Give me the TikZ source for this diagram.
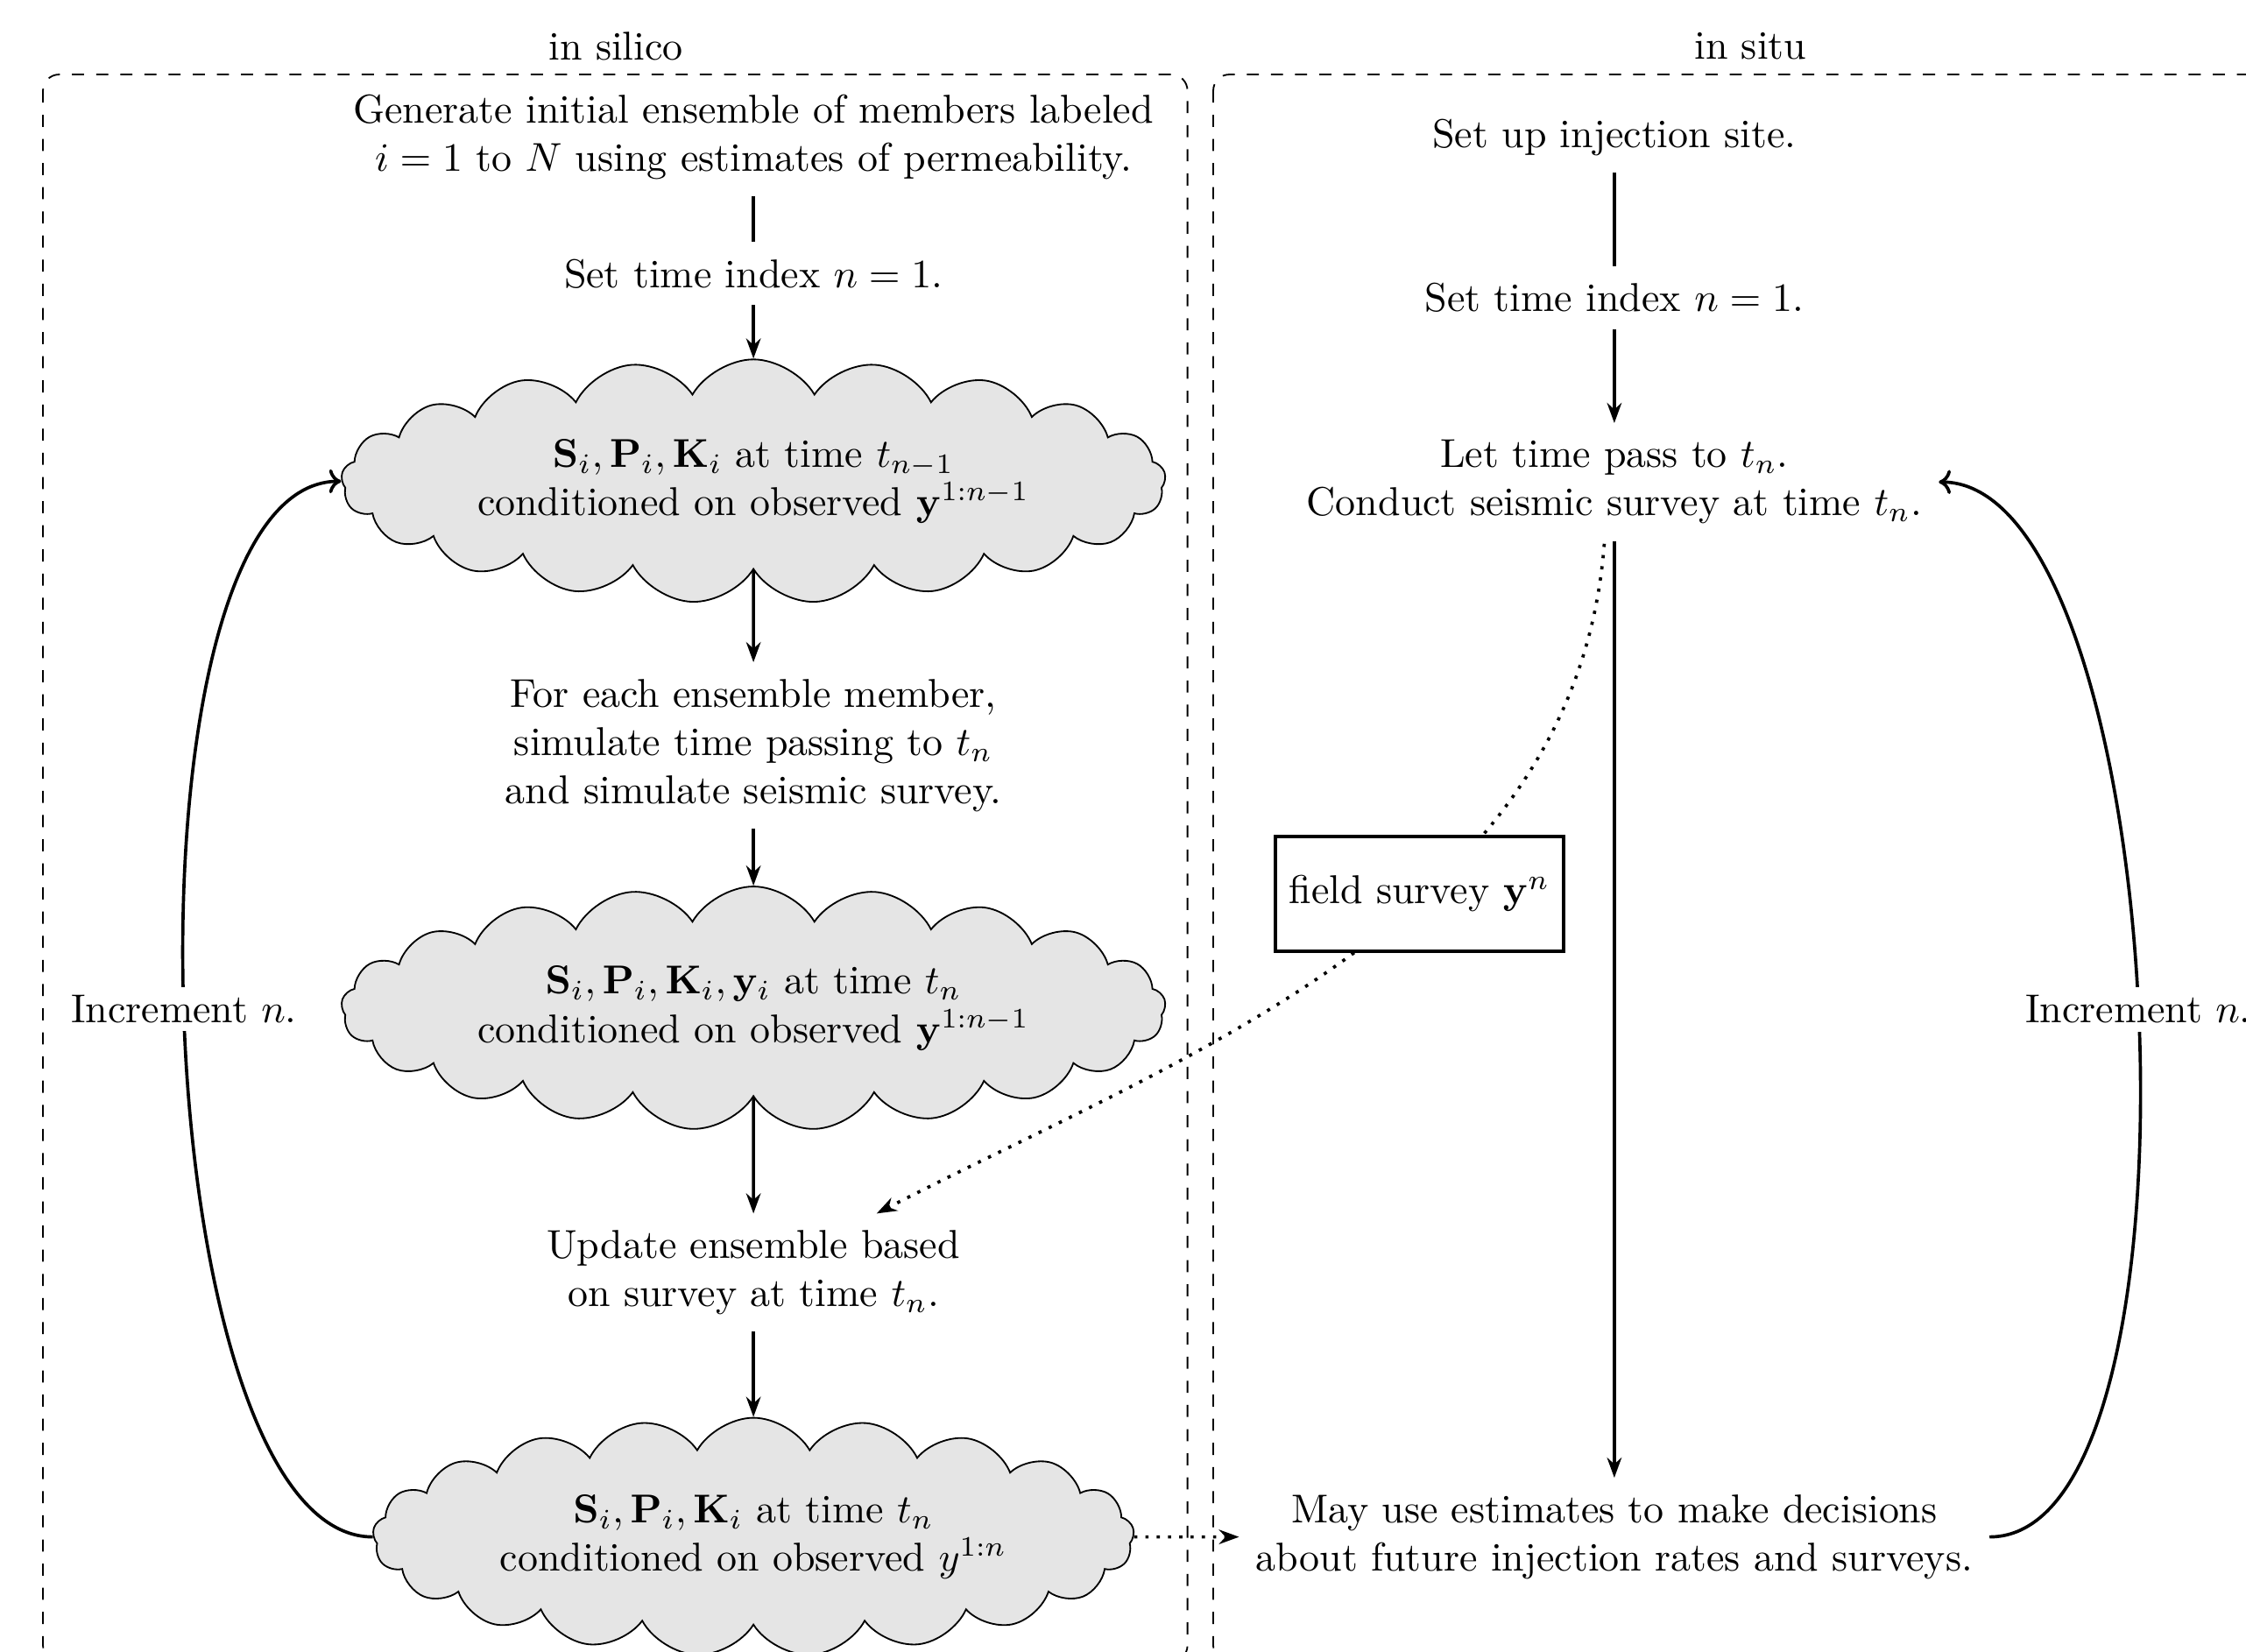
\documentclass[tikz,border=0pt]{standalone}
\usetikzlibrary{shapes.symbols,arrows.meta,calc}
\begin{document}
\begin{tikzpicture}[x=0.3559pt,y=-0.3559pt,
  txt/.style={align=center, inner sep=4pt},
  cloudbox/.style={cloud, cloud puffs=21, cloud puff arc=120, cloud ignores aspect, draw, fill=gray!20, align=center, inner xsep=3.333pt, inner ysep=5pt},
  flow/.style={thick,-{Stealth[length=5pt,width=3.6pt]}},
  plainline/.style={thick},
  incr/.style={thick,-{To[length=3pt,width=6pt]}},
  dotarrow/.style={thick,dotted,-{Stealth[length=5pt,width=3.6pt]}},
  region/.style={dashed, rounded corners=4pt},
]
\useasboundingbox (0,0) rectangle (1568,1153);
\clip (0,0) rectangle (1568,1153);

% regions
\draw[region] (30,52) rectangle (829,1160);
\draw[region] (847,52) rectangle (1597,1160);
\node (silico) at (430,32) {in silico};
\node (situ) at (1222,32) {in situ};

% left column
\node[txt] (A) at (526,95.5) {Generate initial ensemble of members labeled\\ $i=1$ to $N$ using estimates of permeability.};
\node[txt] (B) at (526,191) {Set time index $n=1$.};
\node[cloudbox] (C) at (526,336)
  {$\mathbf{S}_i,\mathbf{P}_i,\mathbf{K}_i$ at time $t_{n-1}$\\ conditioned on observed $\mathbf{y}^{1:n-1}$};
\node[txt] (D) at (526,520.5) {For each ensemble member,\\ simulate time passing to $t_n$\\ and simulate seismic survey.};
\node[cloudbox] (E) at (526,704)
  {$\mathbf{S}_i,\mathbf{P}_i,\mathbf{K}_i,\mathbf{y}_i$ at time $t_n$\\ conditioned on observed $\mathbf{y}^{1:n-1}$};
\node[txt] (F) at (526,888.5) {Update ensemble based\\ on survey at time $t_n$.};
\node[cloudbox] (G) at (526,1073)
  {$\mathbf{S}_i,\mathbf{P}_i,\mathbf{K}_i$ at time $t_n$\\ conditioned on observed $y^{1:n}$};

% right column
\node[txt] (R1) at (1127,96) {Set up injection site.};
\node[txt] (R2) at (1127,208) {Set time index $n=1$.};
\node[txt] (R3) at (1127,336.5) {Let time pass to $t_n$.\\ Conduct seismic survey at time $t_n$.};
\node[txt] (R4) at (1127,1073) {May use estimates to make decisions\\ about future injection rates and surveys.};

% connectors
\draw[plainline] (A) -- (B);
\draw[flow] (B) -- (C);
\draw[flow] (C) -- (D);
\draw[flow] (D) -- (E);
\draw[flow] (E) -- (F);
\draw[flow] (F) -- (G);
\draw[plainline] (R1) -- (R2);
\draw[flow] (R2) -- (R3);
\draw[flow] (R3) -- (R4);
\draw[dotarrow] (G) -- (R4);

% increment loops
\draw[incr] (G.west) .. controls ($(G.west)+(-161,0)$) and ($(C.west)+(-161,0)$) .. (C.west)
  node[pos=0.5, fill=white, inner sep=2pt] (incL) {Increment $n$.};
\draw[incr] (R4.east) .. controls ($(R4.east)+(162,0)$) and ($(R3.east)+(162,0)$) .. (R3.east)
  node[pos=0.5, fill=white, inner sep=2pt] (incR) {Increment $n$.};

% field survey
\coordinate (ds) at ($(R3.south)+(-7,2)$);
\coordinate (de) at ($(F.north)+(86,0)$);
\draw[dotarrow] (ds) .. controls ($(ds)+(-20,260)$) and ($(de)+(217,-112)$) .. (de);
\node[draw, thick, fill=white, minimum width=71.5pt, minimum height=28.5pt, inner sep=3pt] (FS) at (991,624) {field survey $\mathbf{y}^n$};
\end{tikzpicture}
\end{document}
